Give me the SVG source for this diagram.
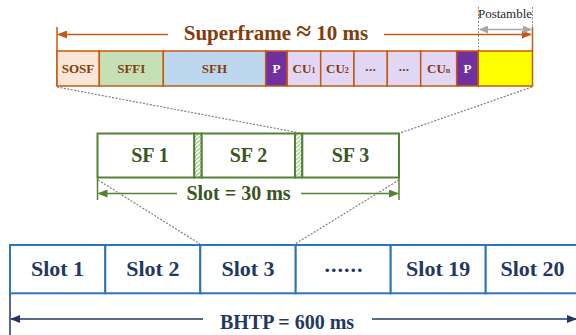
<svg xmlns="http://www.w3.org/2000/svg" width="576" height="335" viewBox="0 0 576 335">
<style>
.b{stroke:#c55a11;stroke-width:1.5}
.bt{font-family:"Liberation Serif",serif;font-weight:bold;font-size:13px;fill:#843c0c;text-anchor:middle}
.wt{font-family:"Liberation Serif",serif;font-weight:bold;font-size:13px;fill:#fff;text-anchor:middle}
.g{fill:#fff;stroke:#548235;stroke-width:2}
.gt{font-family:"Liberation Serif",serif;font-weight:bold;font-size:20px;fill:#385723;text-anchor:middle}
.s{fill:#fff;stroke:#2e75b6;stroke-width:2}
.st{font-family:"Liberation Serif",serif;font-weight:bold;font-size:22px;fill:#1f3864;text-anchor:middle}
.dot{fill:none;stroke:#7f7f7f;stroke-width:1.2;stroke-dasharray:2 1.5}
</style>
<defs>
<pattern id="hatch" patternUnits="userSpaceOnUse" width="4" height="4">
<rect width="4" height="4" fill="#fff"/>
<path d="M-1,5 L5,-1" stroke="#a9d18e" stroke-width="1.3"/>
</pattern>
<marker id="ab" markerWidth="10" markerHeight="8" refX="9" refY="4" orient="auto" markerUnits="userSpaceOnUse"><path d="M0,0 L10,4 L0,8 Z" fill="#c55a11"/></marker>
<marker id="ag" markerWidth="10" markerHeight="8" refX="9" refY="4" orient="auto" markerUnits="userSpaceOnUse"><path d="M0,0 L10,4 L0,8 Z" fill="#548235"/></marker>
<marker id="an" markerWidth="10" markerHeight="8" refX="9" refY="4" orient="auto" markerUnits="userSpaceOnUse"><path d="M0,0 L10,4 L0,8 Z" fill="#1f3864"/></marker>
<marker id="agr" markerWidth="9" markerHeight="8" refX="8" refY="4" orient="auto-start-reverse" markerUnits="userSpaceOnUse"><path d="M0,0 L9,4 L0,8 Z" fill="#a6a6a6"/></marker>
</defs>
<rect width="576" height="335" fill="#fff"/>

<!-- connectors -->
<g id="connectors">
<line class="dot" x1="57" y1="87" x2="300" y2="133"/>
<line class="dot" x1="532" y1="87" x2="400" y2="133"/>
<line class="dot" x1="98" y1="180" x2="200" y2="244"/>
<line class="dot" x1="399" y1="180" x2="295" y2="244"/>
<!-- superframe dimension -->
<line x1="57" y1="27" x2="57" y2="86" stroke="#c55a11" stroke-width="1.5"/>
<line x1="532.5" y1="27" x2="532.5" y2="51" stroke="#c55a11" stroke-width="1.5"/>
<line x1="168" y1="34.5" x2="58" y2="34.5" stroke="#c55a11" stroke-width="1.5" marker-end="url(#ab)"/>
<line x1="384" y1="34.5" x2="531" y2="34.5" stroke="#c55a11" stroke-width="1.5" marker-end="url(#ab)"/>
<!-- postamble dimension -->
<line x1="478.5" y1="7" x2="478.5" y2="51" stroke="#8c8c8c" stroke-width="1" stroke-dasharray="2 1.5"/>
<line x1="532.5" y1="7" x2="532.5" y2="27" stroke="#8c8c8c" stroke-width="1" stroke-dasharray="2 1.5"/>
<line x1="480" y1="29.5" x2="531" y2="29.5" stroke="#a6a6a6" stroke-width="1.3" marker-start="url(#agr)" marker-end="url(#agr)"/>
<!-- slot dimension -->
<line x1="97.5" y1="178" x2="97.5" y2="200" stroke="#548235" stroke-width="1.5"/>
<line x1="399" y1="178" x2="399" y2="200" stroke="#548235" stroke-width="1.5"/>
<line x1="177" y1="193.5" x2="98.5" y2="193.5" stroke="#548235" stroke-width="1.5" marker-end="url(#ag)"/>
<line x1="301" y1="193.5" x2="398" y2="193.5" stroke="#548235" stroke-width="1.5" marker-end="url(#ag)"/>
<!-- BHTP dimension -->
<line x1="10" y1="293" x2="10" y2="335" stroke="#1f3864" stroke-width="1.5"/>
<line x1="203" y1="319" x2="11" y2="319" stroke="#1f3864" stroke-width="1.5" marker-end="url(#an)"/>
<line x1="372" y1="319" x2="576" y2="319" stroke="#1f3864" stroke-width="1.5" marker-end="url(#an)"/>
</g>

<!-- superframe -->
<g id="sosf"><rect class="b" x="57" y="51" width="42.3" height="35" fill="#fbe5d6"/><text class="bt" x="78" y="73">SOSF</text></g>
<g id="sffi"><rect class="b" x="99.3" y="51" width="64" height="35" fill="#c5e0b4"/><text class="bt" x="131.3" y="73">SFFI</text></g>
<g id="sfh"><rect class="b" x="163.3" y="51" width="102.4" height="35" fill="#bdd7ee"/><text class="bt" x="214.5" y="73">SFH</text></g>
<g id="p1"><rect class="b" x="265.7" y="51" width="21.6" height="35" fill="#7030a0"/><text class="wt" x="276.5" y="73">P</text></g>
<g id="cu1"><rect class="b" x="287.3" y="51" width="33.4" height="35" fill="#e2d6f5"/><text class="bt" x="304" y="73">CU<tspan font-size="8">1</tspan></text></g>
<g id="cu2"><rect class="b" x="320.7" y="51" width="33.3" height="35" fill="#e2d6f5"/><text class="bt" x="337.4" y="73">CU<tspan font-size="8">2</tspan></text></g>
<g id="dots1"><rect class="b" x="354" y="51" width="33.3" height="35" fill="#e2d6f5"/><text class="bt" x="370.7" y="71" font-size="15" letter-spacing="0.3">...</text></g>
<g id="dots2"><rect class="b" x="387.3" y="51" width="33.4" height="35" fill="#e2d6f5"/><text class="bt" x="404" y="71" font-size="15" letter-spacing="0.3">...</text></g>
<g id="cun"><rect class="b" x="420.7" y="51" width="36" height="35" fill="#e2d6f5"/><text class="bt" x="438.7" y="73">CU<tspan font-size="8">n</tspan></text></g>
<g id="p2"><rect class="b" x="456.7" y="51" width="21.6" height="35" fill="#7030a0"/><text class="wt" x="467.5" y="73">P</text></g>
<g id="post"><rect class="b" x="478.3" y="51" width="54.2" height="35" fill="#ffff00"/></g>

<text x="276" y="40" font-family="Liberation Serif,serif" font-weight="bold" font-size="21" fill="#843c0c" text-anchor="middle">Superframe <tspan font-size="27">≈</tspan> 10 ms</text>
<text x="505" y="17.5" font-family="Liberation Serif,serif" font-size="13" fill="#262626" text-anchor="middle">Postamble</text>

<!-- SF boxes -->
<g id="sf1"><rect class="g" x="97.5" y="133.5" width="96.8" height="44"/><text class="gt" x="150" y="162">SF 1</text></g>
<g id="gap1"><rect x="194.3" y="133.5" width="7.4" height="44" fill="url(#hatch)" stroke="#548235" stroke-width="2"/></g>
<g id="sf2"><rect class="g" x="201.7" y="133.5" width="93.3" height="44"/><text class="gt" x="248.5" y="162">SF 2</text></g>
<g id="gap2"><rect x="295" y="133.5" width="7.3" height="44" fill="url(#hatch)" stroke="#548235" stroke-width="2"/></g>
<g id="sf3"><rect class="g" x="302.3" y="133.5" width="96.7" height="44"/><text class="gt" x="350.5" y="162">SF 3</text></g>
<text class="gt" x="238.5" y="200">Slot = 30 ms</text>

<!-- slots -->
<g id="slot1"><rect class="s" x="10" y="245" width="95.3" height="48.3"/><text class="st" x="57.5" y="276">Slot 1</text></g>
<g id="slot2"><rect class="s" x="105.3" y="245" width="95" height="48.3"/><text class="st" x="152.8" y="276">Slot 2</text></g>
<g id="slot3"><rect class="s" x="200.3" y="245" width="95.4" height="48.3"/><text class="st" x="248" y="276">Slot 3</text></g>
<g id="slotdots"><rect class="s" x="295.7" y="245" width="95" height="48.3"/><text class="st" x="344" y="271.5" font-size="24" letter-spacing="1">......</text></g>
<g id="slot19"><rect class="s" x="390.7" y="245" width="95" height="48.3"/><text class="st" x="438.2" y="276">Slot 19</text></g>
<g id="slot20"><rect class="s" x="485.7" y="245" width="95" height="48.3"/><text class="st" x="532.5" y="276">Slot 20</text></g>
<text x="287" y="329" font-family="Liberation Serif,serif" font-weight="bold" font-size="20" fill="#1f3864" text-anchor="middle">BHTP = 600 ms</text>
</svg>
